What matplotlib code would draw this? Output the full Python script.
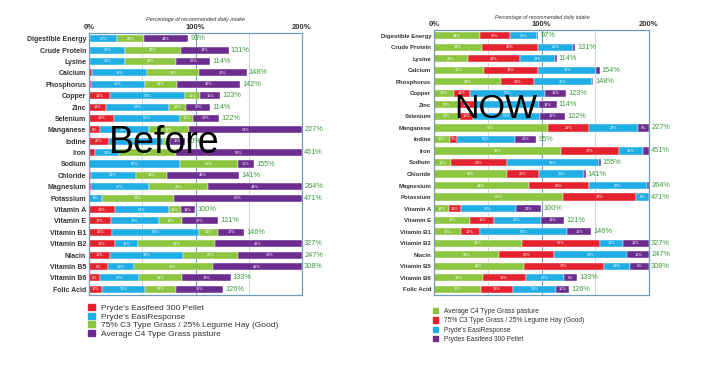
import matplotlib.pyplot as plt
import numpy as np
from matplotlib.patches import Patch

plt.rcParams['font.family'] = ['Liberation Sans', 'DejaVu Sans']

nutrients = ["Digestible Energy", "Crude Protein", "Lysine", "Calcium", "Phosphorus",
             "Copper", "Zinc", "Selenium", "Manganese", "Iodine", "Iron", "Sodium",
             "Chloride", "Magnesium", "Potassium", "Vitamin A", "Vitamin E", "Vitamin B1",
             "Vitamin B2", "Niacin", "Vitamin B5", "Vitamin B6", "Folic Acid"]

# Before: share of total (%) per source, and total % of daily intake
before_total = [93, 131, 114, 148, 142, 123, 114, 122, 227, 90, 451, 155, 141, 264, 471,
                100, 121, 146, 327, 247, 308, 133, 126]
before_pellet = [1, 1, 1, 2, 1, 16, 14, 19, 5, 21, 3, 0, 1, 1, 0, 24, 17, 15, 12, 10, 9, 8, 10]
before_response = [27, 25, 29, 35, 36, 57, 52, 51, 23, 56, 11, 55, 30, 27, 6, 51, 37, 56, 11, 34, 12, 27, 32]
before_c3 = [28, 40, 42, 33, 21, 12, 14, 10, 19, 7, 27, 35, 21, 28, 34, 11, 18, 12, 36, 26, 37, 31, 23]
before_c4 = [44, 34, 28, 30, 42, 15, 20, 20, 53, 16, 59, 10, 48, 44, 60, 14, 28, 17, 41, 30, 42, 34, 35]

# Now
now_total = [97, 131, 114, 154, 148, 123, 114, 122, 227, 95, 451, 155, 141, 264, 471,
             100, 121, 146, 327, 247, 308, 133, 126]
now_c4 = [44, 34, 28, 30, 42, 15, 20, 20, 53, 16, 59, 10, 48, 44, 60, 14, 28, 17, 41, 30, 42, 34, 35]
now_c3 = [29, 40, 42, 33, 21, 12, 14, 10, 19, 7, 27, 34, 21, 28, 34, 11, 18, 12, 36, 26, 37, 30, 23]
now_response = [26, 25, 29, 35, 36, 57, 52, 51, 23, 56, 11, 55, 30, 27, 6, 51, 36, 56, 11, 34, 12, 27, 32]
now_pellet = [1, 1, 1, 2, 1, 16, 14, 19, 5, 21, 3, 1, 1, 1, 0, 24, 18, 15, 12, 10, 9, 9, 10]

RED = '#e5232f'
BLUE = '#21ade5'
GREEN = '#8cc540'
PURPLE = '#6c2d8f'
FRAME = '#6f9bbd'
TXT = '#333333'


def draw(ax, series, total, fs_lab):
    y = np.arange(len(nutrients))
    shown = np.minimum(np.array(total, dtype=float), 200)
    left = np.zeros(len(nutrients))
    for share, color in series:
        w = np.array(share) / 100 * shown
        ax.barh(y, w, left=left, height=0.62, color=color, edgecolor='white', linewidth=0.3, zorder=2)
        for i in range(len(y)):
            if share[i] >= 5:
                ax.text(left[i] + w[i] / 2, y[i], f"{share[i]}%", ha='center', va='center',
                        fontsize=2.8, color='white', zorder=3)
        left += w
    for i in range(len(y)):
        ax.text(shown[i] + 2, y[i], f"{total[i]}%", ha='left', va='center',
                fontsize=5.3, color='#3c9b3c')
    ax.set_xlim(0, 200)
    ax.set_ylim(22.5, -0.5)
    ax.axvline(50, color='#c9d6e0', lw=0.7, zorder=1)
    ax.axvline(150, color='#c9d6e0', lw=0.7, zorder=1)
    ax.axvline(100, color=FRAME, lw=0.8, zorder=1)
    for s in ax.spines.values():
        s.set_color(FRAME)
        s.set_linewidth(0.9)
    ax.xaxis.tick_top()
    ax.set_xticks([0, 100, 200])
    ax.set_xticklabels(['0%', '100%', '200%'], fontsize=5.5, fontweight='bold', color=TXT)
    ax.set_yticks(y)
    ax.set_yticklabels(nutrients, fontsize=fs_lab, fontweight='bold', color=TXT)
    ax.tick_params(length=0, pad=2)
    ax.tick_params(axis='x', pad=1.5)


fig = plt.figure(figsize=(7.1, 3.75), dpi=100)
ax1 = fig.add_axes([89 / 710, 1 - 295 / 375, 213 / 710, 262 / 375])
ax2 = fig.add_axes([434 / 710, 1 - 295 / 375, 215 / 710, 265 / 375])

draw(ax1, [(before_pellet, RED), (before_response, BLUE), (before_c3, GREEN), (before_c4, PURPLE)],
     before_total, 5)
draw(ax2, [(now_c4, GREEN), (now_c3, RED), (now_response, BLUE), (now_pellet, PURPLE)],
     now_total, 4.3)

fig.text(195 / 710, 1 - 20 / 375, 'Percentage of recommended daily intake', fontsize=4,
         style='italic', ha='center', va='center', color=TXT)
fig.text(542 / 710, 1 - 17 / 375, 'Percentage of recommended daily intake', fontsize=3.8,
         style='italic', ha='center', va='center', color=TXT)

fig.text(164 / 710, 1 - 143 / 375, 'Before', fontsize=27, ha='center', va='center', color='black')
fig.text(496 / 710, 1 - 110 / 375, 'NOW', fontsize=24.5, ha='center', va='center', color='black')

leg_kw = dict(loc='upper left', frameon=False, handlelength=0.8, handleheight=0.8,
              handletextpad=0.8, borderpad=0, borderaxespad=0, labelcolor=TXT)
fig.legend(handles=[Patch(color=RED, label="Pryde's Easifeed 300 Pellet"),
                    Patch(color=BLUE, label="Pryde's EasiResponse"),
                    Patch(color=GREEN, label="75% C3 Type Grass / 25% Legume Hay (Good)"),
                    Patch(color=PURPLE, label="Average C4 Type Grass pasture")],
           bbox_to_anchor=(88 / 710, 1 - 304 / 375), fontsize=6, labelspacing=0.05,
           **leg_kw)
fig.legend(handles=[Patch(color=GREEN, label="Average C4 Type Grass pasture"),
                    Patch(color=RED, label="75% C3 Type Grass / 25% Legume Hay (Good)"),
                    Patch(color=BLUE, label="Pryde's EasiResponse"),
                    Patch(color=PURPLE, label="Prydes Easifeed 300 Pellet")],
           bbox_to_anchor=(433 / 710, 1 - 308 / 375), fontsize=4.8, labelspacing=0.35,
           **leg_kw)

fig.savefig('out.png', dpi=100)
